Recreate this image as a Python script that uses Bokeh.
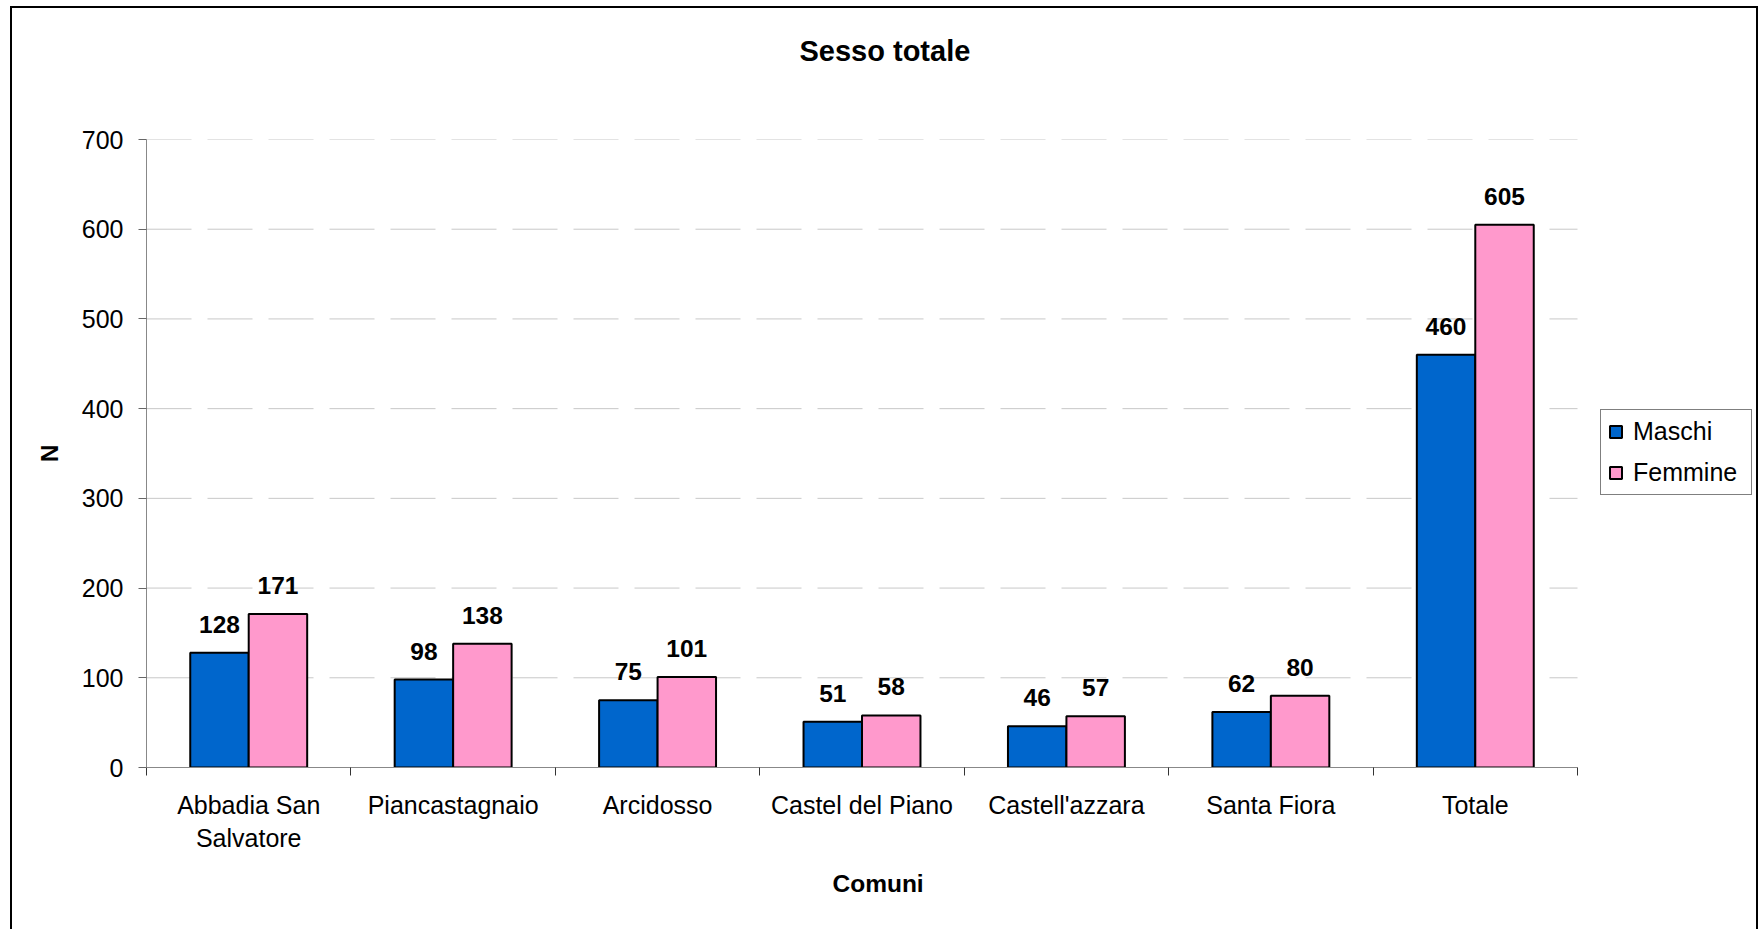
from bokeh.plotting import figure
from bokeh.models import (ColumnDataSource, Range1d, FixedTicker, LabelSet, Title,
                          Legend, LegendItem)
from bokeh.core.properties import value
from bokeh.transform import dodge
from bokeh.embed import file_html
from bokeh.resources import INLINE

# ---- data ----
title_text = "Sesso totale"
x_title = "Comuni"
y_title = "N"
categories = ["Abbadia San\nSalvatore", "Piancastagnaio", "Arcidosso",
              "Castel del Piano", "Castell'azzara", "Santa Fiora", "Totale"]
maschi = [128, 98, 75, 51, 46, 62, 460]
femmine = [171, 138, 101, 58, 57, 80, 605]
y_ticks = [0, 100, 200, 300, 400, 500, 600, 700]
series_names = ["Maschi", "Femmine"]
series_colors = ["#0066CC", "#FF99CC"]

FONT = "Liberation Sans"

# ---- layout geometry (pixels) ----
W, H = 1758, 929
PLOT_L, PLOT_R, PLOT_T, PLOT_B = 146, 1577, 139, 767   # axes box of the chart
FRAME_R = 1752                                         # bokeh frame right edge
n = len(categories)
ymax = y_ticks[-1]
px_x = (PLOT_R - PLOT_L) / n
x_end = (FRAME_R - PLOT_L) / px_x

centers = [i + 0.5 for i in range(n)]
src = ColumnDataSource(dict(x=centers, m=maschi, f=femmine,
                            ml=[str(v) for v in maschi],
                            fl=[str(v) for v in femmine]))

p = figure(width=W, height=H, output_backend="svg", toolbar_location=None,
           title=None,
           x_range=Range1d(0, x_end), y_range=Range1d(0, ymax),
           min_border_left=PLOT_L, min_border_right=W - FRAME_R,
           min_border_top=PLOT_T, min_border_bottom=H - PLOT_B)
p.styles = {"box-shadow": ("inset 10px 0 0 0 #ffffff, inset 0 6px 0 0 #ffffff, "
                           "inset 12px 0 0 0 #000000, inset 0 8px 0 0 #000000, "
                           "inset -2px 0 0 0 #000000"),
            "background-color": "#ffffff"}
p.outline_line_color = None
p.background_fill_color = None
p.border_fill_color = None
p.xgrid.grid_line_color = None
p.ygrid.grid_line_color = None

# titles: a blank spacer next to the frame, then the real title above it
p.add_layout(Title(text=" ", text_font=FONT, text_font_size="29px",
                   standoff=39), "above")
p.add_layout(Title(text=title_text, align="left", offset=653, standoff=0,
                   text_font=FONT, text_font_size="29px", text_font_style="bold",
                   text_color="black"), "above")

# gridlines limited to the chart's axes box
gy = y_ticks[1:]
p.segment(x0=0, x1=n, y0=gy, y1=gy, line_color="#c8c8c8", line_width=1,
          line_dash="45 16", level="underlay")

bw = 0.286
r1 = p.vbar(x=dodge("x", -bw / 2, range=p.x_range), top="m", width=bw, source=src,
            fill_color=series_colors[0], line_color="black", line_width=2)
r2 = p.vbar(x=dodge("x", bw / 2, range=p.x_range), top="f", width=bw, source=src,
            fill_color=series_colors[1], line_color="black", line_width=2)

for col, lab, off in (("m", "ml", -bw / 2), ("f", "fl", bw / 2)):
    p.add_layout(LabelSet(x=dodge("x", off, range=p.x_range), y=col, text=lab,
                          source=src, y_offset=20, text_align="center",
                          text_baseline="alphabetic", text_font=value(FONT),
                          text_font_size=value("24.5px"),
                          text_font_style="bold", text_color="black"))

# x axis
xa = p.xaxis[0]
xa.bounds = (0, n)
xa.ticker = FixedTicker(ticks=centers, minor_ticks=list(range(n + 1)))
xa.major_label_overrides = {c: name for c, name in zip(centers, categories)}
xa.major_tick_line_color = None
xa.major_tick_in = 0
xa.major_tick_out = 8
xa.minor_tick_in = 0
xa.minor_tick_out = 8
xa.minor_tick_line_color = "#333333"
xa.axis_line_color = "#888888"
xa.major_label_text_font = FONT
xa.major_label_text_font_size = "25px"
xa.major_label_text_color = "black"
xa.major_label_standoff = 15

# x axis title as a bottom title placed under the axis
p.add_layout(Title(text=x_title, align="left", offset=686, standoff=24,
                   text_font=FONT, text_font_size="24.5px", text_font_style="bold",
                   text_color="black"), "below")

# y axis
ya = p.yaxis[0]
ya.bounds = (0, ymax)
ya.ticker = FixedTicker(ticks=y_ticks)
ya.minor_tick_line_color = None
ya.major_tick_in = 0
ya.major_tick_out = 8
ya.major_tick_line_color = "#666666"
ya.axis_line_color = "#888888"
ya.major_label_text_font = FONT
ya.major_label_text_font_size = "25px"
ya.major_label_text_color = "black"
ya.major_label_standoff = 15
ya.axis_label = y_title
ya.axis_label_text_font = FONT
ya.axis_label_text_font_size = "24.5px"
ya.axis_label_text_font_style = "bold"
ya.axis_label_text_color = "black"
ya.axis_label_standoff = 16

legend = Legend(items=[LegendItem(label=series_names[0], renderers=[r1]),
                       LegendItem(label=series_names[1], renderers=[r2])],
                location=(1600 - PLOT_L, PLOT_B - 495), orientation="vertical")
legend.glyph_width = 15
legend.glyph_height = 15
legend.label_standoff = 10
legend.label_width = 111
legend.padding = 7
legend.spacing = 12
legend.margin = 0
legend.label_text_font = FONT
legend.label_text_font_size = "25px"
legend.label_text_color = "black"
legend.border_line_color = "black"
legend.border_line_width = 1
legend.background_fill_color = "white"
legend.background_fill_alpha = 1
p.add_layout(legend, "center")

open("out.html", "w").write(file_html(p, INLINE))
